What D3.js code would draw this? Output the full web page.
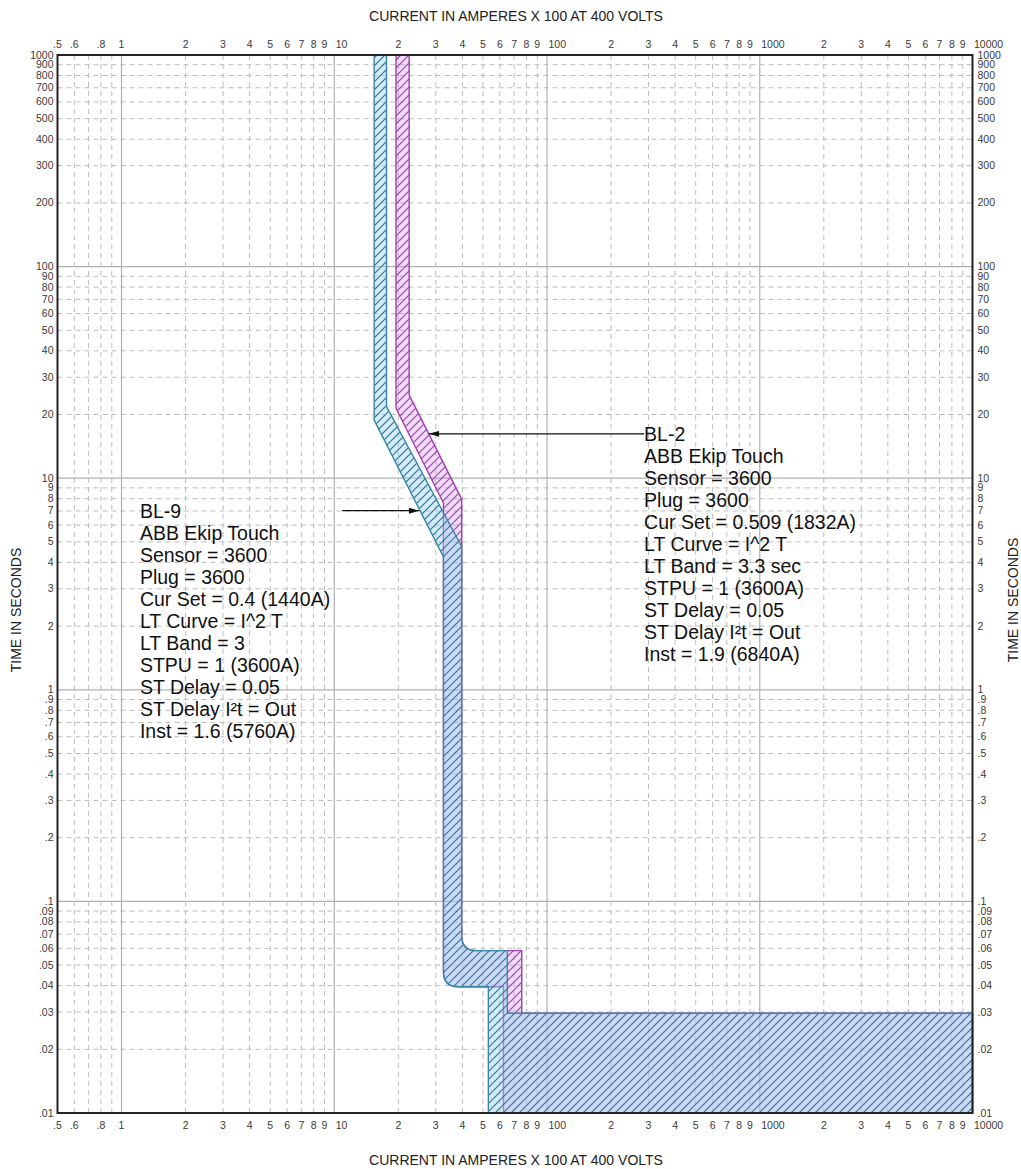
<!DOCTYPE html>
<html>
<head>
<meta charset="utf-8">
<script src="https://cdn.jsdelivr.net/npm/d3@7"></script>
<style>
body { margin: 0; background: #fff; }
svg { display: block; font-family: Arial, "Liberation Sans", sans-serif; }
</style>
</head>
<body>
<script>
// axis ranges: current in amperes x 100, time in seconds
const currentDomain = [0.5, 10000];
const timeDomain = [0.01, 1000];
const decadesX = [1, 10, 100, 1000];
const decadesY = [0.01, 0.1, 1, 10, 100];
const mantissas = [2, 3, 4, 5, 6, 7, 8, 9];
const xSubUnitTicks = [0.6, 0.7, 0.8, 0.9];
const xSubUnitLabels = [0.5, 0.6, 0.8];

// trip bands as [current, time, corner radius]
const bandBL9 = [
    [15.4, 1000], [17.6, 1000], [17.6, 21.8], [39.7, 4.75],
    [39.7, 0.0585, 15], [65.1, 0.0585], [65.1, 0.0296], [10000, 0.0296],
    [10000, 0.01], [53.0, 0.01], [53.0, 0.0395], [32.6, 0.0395, 15],
    [32.6, 4.25], [15.4, 18.8]
];
const bandBL2 = [
    [19.5, 1000], [22.5, 1000], [22.5, 24.7], [39.7, 7.96],
    [39.7, 0.0585, 15], [76.1, 0.0585], [76.1, 0.0296], [10000, 0.0296],
    [10000, 0.01], [62.4, 0.01], [62.4, 0.0395], [32.6, 0.0395, 15],
    [32.6, 7.63], [19.5, 21.4]
];

// annotations: text anchor, arrow start and tip in [current, time]
const bl9Lines = ['BL-9', 'ABB Ekip Touch', 'Sensor = 3600', 'Plug = 3600',
    'Cur Set = 0.4 (1440A)', 'LT Curve = I^2 T', 'LT Band = 3', 'STPU = 1 (3600A)',
    'ST Delay = 0.05', 'ST Delay I\u00b2t = Out', 'Inst = 1.6 (5760A)'];
const bl2Lines = ['BL-2', 'ABB Ekip Touch', 'Sensor = 3600', 'Plug = 3600',
    'Cur Set = 0.509 (1832A)', 'LT Curve = I^2 T', 'LT Band = 3.3 sec', 'STPU = 1 (3600A)',
    'ST Delay = 0.05', 'ST Delay I\u00b2t = Out', 'Inst = 1.9 (6840A)'];
const bl9Anchor = [1.22, 6.46];
const bl2Anchor = [286, 15.0];
const bl9Arrow = [[10.9, 7.02], [25.0, 7.02]];
const bl2Arrow = [[286, 16.2], [27.9, 16.2]];

const width = 1021, height = 1169;
const plot = {left: 57.5, right: 972.5, top: 55, bottom: 1113};

const x = d3.scaleLog().domain(currentDomain).range([plot.left, plot.right]);
const y = d3.scaleLog().domain(timeDomain).range([plot.bottom, plot.top]);

const svg = d3.select('body').append('svg')
    .attr('width', width)
    .attr('height', height);

// path with optional rounded corners (radius in px)
const bandPath = (pts) => {
    const p = pts.map(d => ({x: x(d[0]), y: y(d[1]), r: d[2] || 0}));
    const n = p.length;
    let path = '';
    p.forEach((pt, i) => {
        if (pt.r) {
            const prev = p[(i - 1 + n) % n], next = p[(i + 1) % n];
            const d1 = Math.hypot(prev.x - pt.x, prev.y - pt.y);
            const d2 = Math.hypot(next.x - pt.x, next.y - pt.y);
            const a = {x: pt.x + (prev.x - pt.x) * pt.r / d1, y: pt.y + (prev.y - pt.y) * pt.r / d1};
            const b = {x: pt.x + (next.x - pt.x) * pt.r / d2, y: pt.y + (next.y - pt.y) * pt.r / d2};
            path += (i === 0 ? 'M' : 'L') + a.x + ',' + a.y + 'Q' + pt.x + ',' + pt.y + ' ' + b.x + ',' + b.y;
        } else {
            path += (i === 0 ? 'M' : 'L') + pt.x + ',' + pt.y;
        }
    });
    return path + 'Z';
};

const defs = svg.append('defs');
const addHatch = (id, color) => {
    defs.append('pattern')
        .attr('id', id)
        .attr('patternUnits', 'userSpaceOnUse')
        .attr('width', 8)
        .attr('height', 8)
        .append('path')
        .attr('d', 'M-1,1 L1,-1 M0,8 L8,0 M7,9 L9,7')
        .attr('stroke', color)
        .attr('stroke-width', 1.15);
};
addHatch('hatch-bl2', '#a23db5');
addHatch('hatch-bl9', '#2a7694');
// BL-2 hatch is hidden where BL-9 lies on top of it
const mask = defs.append('mask').attr('id', 'not-bl9')
    .attr('maskUnits', 'userSpaceOnUse')
    .attr('x', 0).attr('y', 0).attr('width', width).attr('height', height);
mask.append('rect').attr('width', width).attr('height', height).attr('fill', '#fff');
mask.append('path').attr('d', bandPath(bandBL9)).attr('fill', '#000');
defs.append('marker')
    .attr('id', 'arrow')
    .attr('viewBox', '0 0 10 6')
    .attr('refX', 10)
    .attr('refY', 3)
    .attr('markerUnits', 'userSpaceOnUse')
    .attr('markerWidth', 11)
    .attr('markerHeight', 6)
    .attr('orient', 'auto')
    .append('path')
    .attr('d', 'M0,0 L10,3 L0,6 z')
    .attr('fill', '#111');

// grid values
const xMajor = decadesX;
const xMinor = xSubUnitTicks.concat(...decadesX.map(d => mantissas.map(m => +(m * d).toPrecision(2))));
const yMajor = [0.1, 1, 10, 100];
const yMinor = [].concat(...decadesY.map(d => mantissas.map(m => +(m * d).toPrecision(2))));

const grid = svg.append('g');
grid.selectAll('.xminor').data(xMinor).enter().append('line')
    .attr('x1', d => x(d)).attr('x2', d => x(d))
    .attr('y1', plot.top).attr('y2', plot.bottom)
    .attr('stroke', '#bdbdbd').attr('stroke-dasharray', '5,4');
grid.selectAll('.yminor').data(yMinor).enter().append('line')
    .attr('y1', d => y(d)).attr('y2', d => y(d))
    .attr('x1', plot.left).attr('x2', plot.right)
    .attr('stroke', '#bdbdbd').attr('stroke-dasharray', '5,4');
grid.selectAll('.xmajor').data(xMajor).enter().append('line')
    .attr('x1', d => x(d)).attr('x2', d => x(d))
    .attr('y1', plot.top).attr('y2', plot.bottom)
    .attr('stroke', '#b0b0b0').attr('stroke-width', 1.2);
grid.selectAll('.ymajor').data(yMajor).enter().append('line')
    .attr('y1', d => y(d)).attr('y2', d => y(d))
    .attr('x1', plot.left).attr('x2', plot.right)
    .attr('stroke', '#b0b0b0').attr('stroke-width', 1.2);

const drawBand = (pts, fill, hatch, stroke, hatchMask) => {
    const g = svg.append('g');
    const d = bandPath(pts);
    g.append('path').attr('d', d).attr('fill', fill);
    const h = g.append('path').attr('d', d).attr('fill', `url(#${hatch})`);
    if (hatchMask) h.attr('mask', `url(#${hatchMask})`);
    g.append('path').attr('d', d).attr('fill', 'none')
        .attr('stroke', stroke).attr('stroke-width', 1.4).attr('stroke-linejoin', 'round');
};
drawBand(bandBL2, 'rgba(205,140,232,0.3)', 'hatch-bl2', '#a23db5', 'not-bl9');
drawBand(bandBL9, 'rgba(159,213,244,0.45)', 'hatch-bl9', '#3a87a6');

// plot border
svg.append('rect')
    .attr('x', plot.left).attr('y', plot.top)
    .attr('width', plot.right - plot.left).attr('height', plot.bottom - plot.top)
    .attr('fill', 'none').attr('stroke', '#222').attr('stroke-width', 2);

// tick labels
const xLabelValues = xSubUnitLabels.concat(...decadesX.map(d => [d].concat(mantissas.map(m => m * d))), [10000]);
const isPow10 = v => Math.abs(Math.log10(v) - Math.round(Math.log10(v))) < 1e-9;
const xText = v => v < 1 ? '.' + Math.round(v * 10) : (isPow10(v) ? String(v) : String(Math.round(v / Math.pow(10, Math.floor(Math.log10(v) + 1e-9)))));
const yLabelValues = [].concat(...decadesY.map(d => [1].concat(mantissas).map(m => +(m * d).toPrecision(2))), [1000]);
const yText = v => v >= 1 ? String(v) : String(v).replace('0.', '.');

const tickStyle = sel => sel.attr('font-size', 10.5).attr('fill', '#3a3a3a');
[plot.top - 7, plot.bottom + 16].forEach(ty => {
    svg.append('g').selectAll('text').data(xLabelValues).enter().append('text')
        .attr('x', d => (d >= 10 && isPow10(d)) ? x(d) + 1.5 : x(d))
        .attr('y', ty)
        .attr('text-anchor', d => (d >= 10 && isPow10(d)) ? 'start' : 'middle')
        .text(xText)
        .call(tickStyle);
});
svg.append('g').selectAll('text').data(yLabelValues).enter().append('text')
    .attr('x', plot.left - 4)
    .attr('y', d => y(d) + 3.5)
    .attr('text-anchor', 'end')
    .text(yText)
    .call(tickStyle);
svg.append('g').selectAll('text').data(yLabelValues).enter().append('text')
    .attr('x', plot.right + 5)
    .attr('y', d => y(d) + 3.5)
    .attr('text-anchor', 'start')
    .text(yText)
    .call(tickStyle);

// axis titles
const titleX = 'CURRENT IN AMPERES X 100 AT 400 VOLTS';
const titleY = 'TIME IN SECONDS';
[21, 1165].forEach(ty => {
    svg.append('text').attr('x', 516).attr('y', ty)
        .attr('text-anchor', 'middle').attr('font-size', 14).attr('fill', '#222')
        .text(titleX);
});
[[21, 610], [1018, 600]].forEach(([tx, ty]) => {
    svg.append('text')
        .attr('transform', `translate(${tx},${ty}) rotate(-90)`)
        .attr('text-anchor', 'middle').attr('font-size', 14).attr('fill', '#222')
        .text(titleY);
});

// annotations
const drawNote = (lines, anchor, arrow) => {
    svg.append('line')
        .attr('x1', x(arrow[0][0])).attr('y1', y(arrow[0][1]))
        .attr('x2', x(arrow[1][0])).attr('y2', y(arrow[1][1]))
        .attr('stroke', '#111').attr('stroke-width', 1.2)
        .attr('marker-end', 'url(#arrow)');
    svg.append('g').selectAll('text').data(lines).enter().append('text')
        .attr('x', x(anchor[0]))
        .attr('y', (d, i) => y(anchor[1]) + i * 22)
        .attr('font-size', 19.5).attr('fill', '#111')
        .text(d => d);
};
drawNote(bl9Lines, bl9Anchor, bl9Arrow);
drawNote(bl2Lines, bl2Anchor, bl2Arrow);
</script>
</body>
</html>
